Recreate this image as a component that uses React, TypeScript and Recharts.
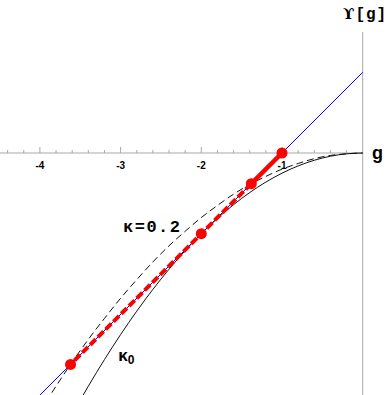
import { ComposedChart, Line, XAxis, YAxis, ReferenceLine, ReferenceDot, Scatter, Label } from "recharts";

// axis ticks
const majorTicks = [-4, -3, -2, -1];
const minorTicks = [
  -4.4, -4.2, -3.8, -3.6, -3.4, -3.2, -2.8, -2.6, -2.4, -2.2,
  -1.8, -1.6, -1.4, -1.2, -0.8, -0.6, -0.4, -0.2,
];

// curves
const curveX = [
  -4.0, -3.8, -3.6, -3.4, -3.2, -3.0, -2.8, -2.6, -2.4, -2.2, -2.0,
  -1.8, -1.6, -1.4, -1.2, -1.0, -0.8, -0.6, -0.4, -0.2, 0,
];
const kappa0Y = [
  -4.0, -3.61, -3.24, -2.89, -2.56, -2.25, -1.96, -1.69, -1.44, -1.21, -1.0,
  -0.81, -0.64, -0.49, -0.36, -0.25, -0.16, -0.09, -0.04, -0.01, 0,
];
const kappa02Y = [
  -3.2, -2.89, -2.59, -2.31, -2.05, -1.8, -1.57, -1.35, -1.15, -0.97, -0.8,
  -0.65, -0.51, -0.39, -0.29, -0.2, -0.13, -0.07, -0.03, -0.01, 0,
];

// tangent line and the red iteration points
const tangentX = [-4, 0];
const tangentY = [-3, 1];
const iterX = [-1, -1.38, -2, -3.62];
const iterY = [0, -0.38, -1, -2.62];

const zip = (xs: number[], ys: number[]) => xs.map((x, i) => ({ x, y: ys[i] }));

const kappa0 = zip(curveX, kappa0Y);
const kappa02 = zip(curveX, kappa02Y);
const tangent = zip(tangentX, tangentY);
const iterPts = zip(iterX, iterY);
const firstStep = iterPts.slice(0, 2);
const restSteps = iterPts.slice(1);

const W = 387;
const H = 395;
const PX = 80.7; // pixels per unit
const X0 = 362.7;
const Y0 = 153;
const xDomain = [-X0 / PX, (W - X0) / PX];
const yDomain = [-(H - Y0) / PX, Y0 / PX];

const AXIS = "#a8a8a8";
const mono = "'Liberation Mono', 'DejaVu Sans Mono', monospace";
const sans = "'Liberation Sans', Arial, sans-serif";
const serif = "'DejaVu Serif', serif";

const textAt =
  (value: any, style: any, dx = 0, dy = 0, anchor = "start") =>
  (props: any) => {
    const vb = props.viewBox || {};
    return (
      <text x={vb.x + dx} y={vb.y + dy} textAnchor={anchor} fill="#000" {...style}>
        {value}
      </text>
    );
  };

export default function App() {
  return (
    <div style={{ position: "absolute", left: 0, top: 0, width: W, height: H, background: "#fff" }}>
      <ComposedChart width={W} height={H} margin={{ top: 0, right: 0, bottom: 0, left: 0 }}>
        <XAxis type="number" dataKey="x" domain={xDomain} allowDataOverflow hide />
        <YAxis type="number" dataKey="y" domain={yDomain} allowDataOverflow hide />

        {/* axes */}
        <ReferenceLine segment={[{ x: xDomain[0], y: 0 }, { x: 0, y: 0 }]} stroke={AXIS} strokeWidth={1} ifOverflow="visible" />
        <ReferenceLine segment={[{ x: 0, y: 1.5 }, { x: 0, y: yDomain[0] }]} stroke={AXIS} strokeWidth={1} ifOverflow="visible" />
        {minorTicks.map((t) => (
          <ReferenceLine key={`mi${t}`} segment={[{ x: t, y: 0 }, { x: t, y: 3 / PX }]} stroke={AXIS} strokeWidth={1} ifOverflow="visible" />
        ))}
        {majorTicks.map((t) => (
          <ReferenceLine key={`ma${t}`} segment={[{ x: t, y: 0 }, { x: t, y: 6 / PX }]} stroke={AXIS} strokeWidth={1} ifOverflow="visible" />
        ))}
        {majorTicks.map((t) => (
          <ReferenceDot key={`lb${t}`} x={t} y={0} r={0} stroke="none" ifOverflow="visible">
            <Label content={textAt(`-${Math.abs(t)}`, { fontFamily: sans, fontSize: 10, fontWeight: "bold" }, 0, 16, "middle")} />
          </ReferenceDot>
        ))}

        {/* curves */}
        <Line data={kappa0} dataKey="y" type="monotone" stroke="#111" strokeWidth={1} dot={false} activeDot={false} isAnimationActive={false} />
        <Line data={kappa02} dataKey="y" type="monotone" stroke="#111" strokeWidth={1} strokeDasharray="7 4" dot={false} activeDot={false} isAnimationActive={false} />
        <Line data={tangent} dataKey="y" type="linear" stroke="#0000ff" strokeWidth={1} dot={false} activeDot={false} isAnimationActive={false} />

        {/* iteration */}
        <Line data={restSteps} dataKey="y" type="linear" stroke="#ff0000" strokeWidth={4} strokeDasharray="8 3" dot={false} activeDot={false} isAnimationActive={false} />
        <Line data={firstStep} dataKey="y" type="linear" stroke="#ff0000" strokeWidth={4.5} dot={false} activeDot={false} isAnimationActive={false} />
        <Scatter
          data={iterPts}
          dataKey="y"
          fill="#ff0000"
          isAnimationActive={false}
          activeShape={(p: any) => <circle cx={p.cx} cy={p.cy} r={5.5} fill="#ff0000" />}
          shape={(p: any) => <circle cx={p.cx} cy={p.cy} r={5.5} fill="#ff0000" />}
        />

        {/* labels */}
        <ReferenceDot x={-2.97} y={-0.975} r={0} stroke="none" ifOverflow="visible">
          <Label content={textAt("κ=0.2", { fontFamily: mono, fontSize: 17, fontWeight: "bold", letterSpacing: 1.5 })} />
        </ReferenceDot>
        <ReferenceDot x={-3.03} y={-2.58} r={0} stroke="none" ifOverflow="visible">
          <Label
            content={textAt(
              [
                <tspan key="k" fontSize={17}>κ</tspan>,
                <tspan key="s" fontSize={12} dy={3}>0</tspan>,
              ],
              { fontFamily: sans, fontWeight: "bold" }
            )}
          />
        </ReferenceDot>
        <ReferenceDot x={-0.245} y={1.66} r={0} stroke="none" ifOverflow="visible">
          <Label
            content={textAt(
              [
                <tspan key="u" fontFamily={serif} fontSize={15}>ϒ</tspan>,
                <tspan key="g" fontFamily={mono} fontSize={16}>[g]</tspan>,
              ],
              { fontWeight: "bold", letterSpacing: 1 }
            )}
          />
        </ReferenceDot>
        <ReferenceDot x={0.115} y={-0.08} r={0} stroke="none" ifOverflow="visible">
          <Label content={textAt("g", { fontFamily: sans, fontSize: 18, fontWeight: "bold" })} />
        </ReferenceDot>
      </ComposedChart>
    </div>
  );
}
